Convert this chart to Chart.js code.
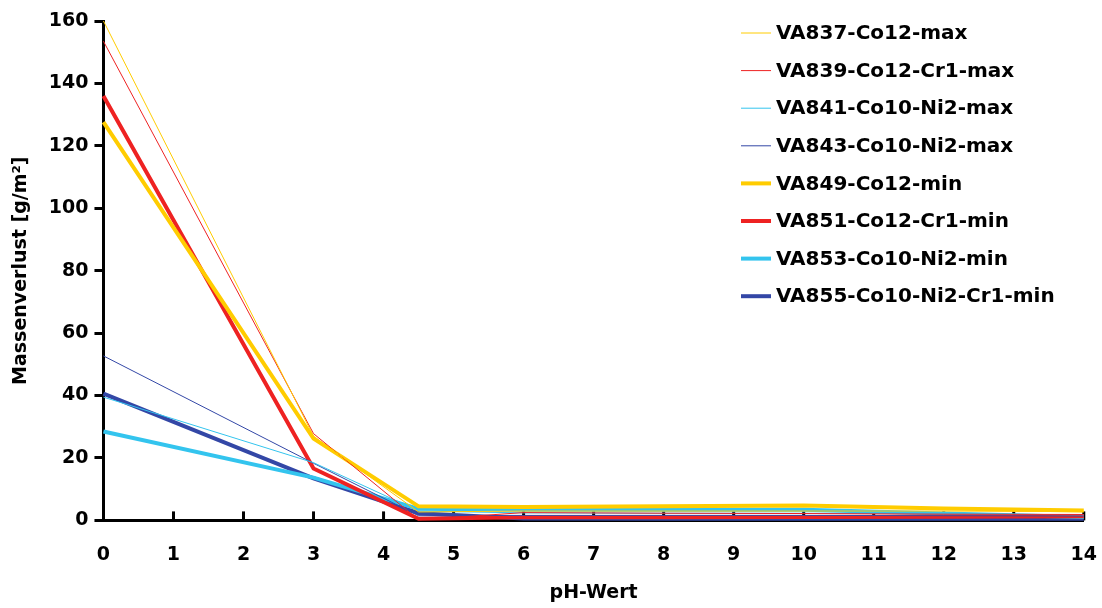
<!DOCTYPE html>
<html>
<head>
<meta charset="utf-8">
<script src="https://cdn.jsdelivr.net/npm/chart.js@4"></script>
<style>
  html, body { margin: 0; padding: 0; background: #fff; }
  #wrap { width: 1102px; height: 608px; }
</style>
</head>
<body>
<div id="wrap"><canvas id="chart" width="1102" height="608"></canvas></div>
<script>
// pH values at which mass loss was measured
var phValues = [0, 3, 4.5, 6, 8, 10, 12, 14];

var seriesNames = [
    'VA837-Co12-max', 'VA839-Co12-Cr1-max', 'VA841-Co10-Ni2-max', 'VA843-Co10-Ni2-max',
    'VA849-Co12-min', 'VA851-Co12-Cr1-min', 'VA853-Co10-Ni2-min', 'VA855-Co10-Ni2-Cr1-min'
];

var va837 = [160, 27, 2.7, 3.0, 3.0, 3.0, 3.0, 2.8];
var va839 = [153.5, 27.8, 0.2, 2.5, 2.3, 2.2, 2.0, 1.9];
var va841 = [39.5, 18.5, 3.0, 2.4, 2.3, 2.3, 2.1, 1.8];
var va843 = [52.7, 18.3, 1.5, 1.6, 1.6, 1.6, 1.5, 1.4];
var va849 = [127.6, 26.2, 4.5, 4.3, 4.5, 4.8, 3.8, 3.2];
var va851 = [136, 16.6, 0.5, 1.0, 1.0, 1.1, 1.2, 1.3];
var va853 = [28.5, 13.7, 3.7, 3.4, 3.4, 3.4, 2.2, 1.1];
var va855 = [40.6, 13.5, 2.3, 0.6, 0.5, 0.5, 0.5, 0.5];

var seriesValues = [va837, va839, va841, va843, va849, va851, va853, va855];
var seriesColors = ['#FFCC00', '#EE2222', '#33C4EE', '#3347A6', '#FFCC00', '#EE2222', '#33C4EE', '#3347A6'];
var seriesWidths = [1, 1, 1, 1, 4, 4, 4, 4];

var yTicks = [0, 20, 40, 60, 80, 100, 120, 140, 160];

var font = 'DejaVu Sans, sans-serif';

function toPoints(values) {
    return values.map(function(v, i) { return { x: phValues[i], y: v }; });
}

var datasets = seriesNames.map(function(name, i) {
    return {
        label: name,
        data: toPoints(seriesValues[i]),
        borderColor: seriesColors[i],
        backgroundColor: seriesColors[i],
        borderWidth: seriesWidths[i],
        pointRadius: 0,
        tension: 0,
        clip: false,
        order: seriesWidths[i] === 1 ? 0 : 1
    };
});

// inward x ticks, drawn behind the lines
var innerTicks = {
    id: 'innerTicks',
    beforeDatasetsDraw: function(chart) {
        var ctx = chart.ctx;
        var xs = chart.scales.x;
        var bottom = chart.chartArea.bottom;
        ctx.save();
        ctx.strokeStyle = '#000';
        ctx.lineWidth = 3;
        xs.ticks.forEach(function(t) {
            if (t.value === 0) return;
            var px = xs.getPixelForValue(t.value);
            ctx.beginPath();
            ctx.moveTo(px, bottom);
            ctx.lineTo(px, bottom - 9);
            ctx.stroke();
        });
        ctx.restore();
    }
};

// legend inside the plot, top right
var innerLegend = {
    id: 'innerLegend',
    afterDraw: function(chart) {
        var ctx = chart.ctx;
        ctx.save();
        ctx.font = 'bold 20px ' + font;
        ctx.textBaseline = 'middle';
        ctx.fillStyle = '#000';
        chart.data.datasets.forEach(function(ds, i) {
            var y = 33 + i * 37.6;
            ctx.strokeStyle = ds.borderColor;
            ctx.lineWidth = ds.borderWidth;
            ctx.beginPath();
            ctx.moveTo(741, y);
            ctx.lineTo(771, y);
            ctx.stroke();
            ctx.fillText(ds.label, 776, y + 1);
        });
        ctx.restore();
    }
};

var tickFont = { family: font, size: 19, weight: 'bold' };

new Chart(document.getElementById('chart'), {
    type: 'line',
    data: { datasets: datasets },
    plugins: [innerTicks, innerLegend],
    options: {
        responsive: false,
        animation: false,
        layout: { padding: { left: 6, right: 4, top: 21, bottom: 0 } },
        plugins: { legend: { display: false }, tooltip: { enabled: false } },
        scales: {
            x: {
                type: 'linear',
                min: 0,
                max: 14,
                ticks: { stepSize: 1, color: '#000', font: tickFont, padding: 5 },
                grid: { display: true, drawOnChartArea: false, drawTicks: true, tickLength: 18, tickColor: 'rgba(0,0,0,0)' },
                border: { color: '#000', width: 3 },
                title: { display: true, text: 'pH-Wert', color: '#000', font: tickFont, padding: { top: 10, bottom: 4 } }
            },
            y: {
                min: 0,
                max: 160,
                afterBuildTicks: function(axis) {
                    axis.ticks = yTicks.map(function(v) { return { value: v }; });
                },
                ticks: { color: '#000', font: tickFont, padding: 6 },
                grid: { display: true, drawOnChartArea: false, tickLength: 9, tickWidth: 3, tickColor: '#000' },
                border: { color: '#000', width: 3 },
                title: { display: true, text: 'Massenverlust [g/m²]', color: '#000', font: tickFont, padding: { bottom: 10 } }
            }
        }
    }
});
</script>
</body>
</html>
